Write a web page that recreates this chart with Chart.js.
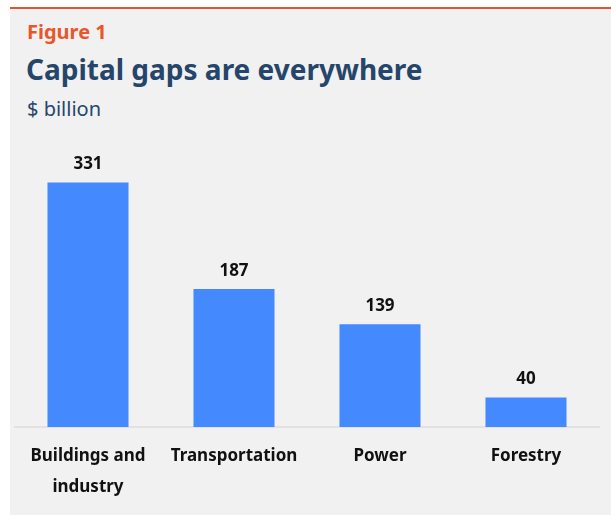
<!DOCTYPE html>
<html lang="en">
<head>
  <meta charset="UTF-8">
  <title>Capital gaps are everywhere</title>
  <script src="https://cdn.jsdelivr.net/npm/chart.js"></script>
  <style>
    body { margin: 0; background: #fff; font-family: "Noto Sans", Arial, sans-serif; }
    #panel { position: absolute; left: 10px; top: 7px; width: 601px; height: 508px; background: #f1f1f1; border-top: 2px solid #e0552b; }
    .fig { position: absolute; left: 17px; top: 9px; font-size: 20px; font-weight: bold; color: #e8562a; }
    .title { position: absolute; left: 16px; top: 41px; font-size: 28px; font-weight: bold; color: #26456b; }
    .unit { position: absolute; left: 17px; top: 86px; font-size: 20px; color: #26456b; }
    #wrap { position: absolute; left: 0; top: 117px; width: 601px; height: 390px; }
  </style>
</head>
<body>
  <div id="panel">
    <div class="fig">Figure 1</div>
    <div class="title">Capital gaps are everywhere</div>
    <div class="unit">$ billion</div>
    <div id="wrap"><canvas id="gapChart"></canvas></div>
  </div>
  <script>
    const sectors = [['Buildings and', 'industry'], 'Transportation', 'Power', 'Forestry'];
    const gaps = [331, 187, 139, 40];

    // value labels above each bar
    const barLabels = {
      id: 'barLabels',
      afterDatasetsDraw(chart) {
        const ctx = chart.ctx;
        ctx.save();
        ctx.font = 'bold 17px "Noto Sans", Arial, sans-serif';
        ctx.fillStyle = '#111';
        ctx.textAlign = 'center';
        ctx.textBaseline = 'middle';
        chart.getDatasetMeta(0).data.forEach((bar, i) => {
          ctx.fillText(gaps[i], bar.x, bar.y - 18);
        });
        ctx.restore();
      }
    };

    new Chart(document.getElementById('gapChart'), {
      type: 'bar',
      data: {
        labels: sectors,
        datasets: [{
          data: gaps,
          backgroundColor: '#4589fe',
          borderWidth: 0,
          categoryPercentage: 1,
          barPercentage: 0.555
        }]
      },
      options: {
        responsive: true,
        maintainAspectRatio: false,
        animation: false,
        layout: { padding: { left: 5, right: 12, top: 35, bottom: 0 } },
        plugins: { legend: { display: false }, tooltip: { enabled: false } },
        scales: {
          x: {
            grid: { display: false, drawTicks: false },
            border: { color: '#e2e2e2', width: 2 },
            ticks: {
              color: '#111',
              padding: 13,
              font: { family: '"Noto Sans", Arial, sans-serif', size: 17, weight: 'bold', lineHeight: 1.85 }
            }
          },
          y: { display: false, min: 0, max: 360 }
        }
      },
      plugins: [barLabels]
    });
  </script>
</body>
</html>
